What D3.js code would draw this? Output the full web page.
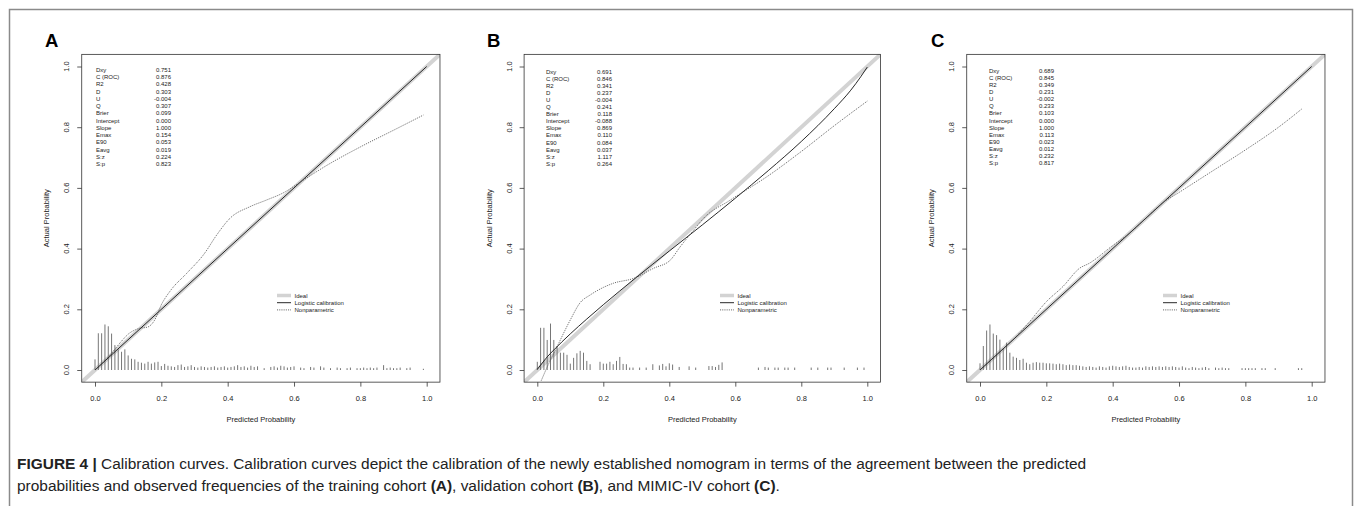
<!DOCTYPE html>
<html>
<head>
<meta charset="utf-8">
<script src="https://d3js.org/d3.v7.min.js"></script>
<style>
  body { margin: 0; background: #fff; }
  svg text { font-family: "Liberation Sans", Arial, Helvetica, sans-serif; }
</style>
</head>
<body>
<svg id="fig" width="1362" height="506"></svg>
<script>
// ---- data ----
const ticks = [0, 0.2, 0.4, 0.6, 0.8, 1.0];
const panelLetters = ["A", "B", "C"];
const statNames = ["Dxy", "C (ROC)", "R2", "D", "U", "Q", "Brier", "Intercept",
                   "Slope", "Emax", "E90", "Eavg", "S:z", "S:p"];
const statsA = ["0.751", "0.876", "0.428", "0.303", "-0.004", "0.307", "0.099", "0.000",
                "1.000", "0.154", "0.053", "0.019", "0.224", "0.823"];
const statsB = ["0.691", "0.846", "0.341", "0.237", "-0.004", "0.241", "0.118", "-0.088",
                "0.869", "0.110", "0.084", "0.037", "1.117", "0.264"];
const statsC = ["0.689", "0.845", "0.349", "0.231", "-0.002", "0.233", "0.103", "0.000",
                "1.000", "0.113", "0.023", "0.012", "0.232", "0.817"];
const legendLabels = ["Ideal", "Logistic calibration", "Nonparametric"];

// logistic calibration curves [predicted, actual]
const logisticA = [[0.0, 0.0], [1.0, 1.0]];
const logisticB = [[0.0, 0.002], [0.01, 0.016], [0.03, 0.043], [0.05, 0.066], [0.1, 0.119],
                   [0.15, 0.168], [0.2, 0.215], [0.3, 0.305], [0.4, 0.392], [0.5, 0.478],
                   [0.6, 0.566], [0.7, 0.657], [0.8, 0.753], [0.9, 0.861], [0.95, 0.922],
                   [0.98, 0.966], [1.0, 0.998]];
const logisticC = [[0.0, 0.0], [1.0, 1.0]];

// nonparametric (lowess) curves [predicted, actual]
const nonparA = [[0.0, 0.0], [0.02, 0.02], [0.05, 0.055], [0.08, 0.095], [0.1, 0.118],
                 [0.13, 0.136], [0.16, 0.142], [0.18, 0.165], [0.2, 0.215], [0.23, 0.265],
                 [0.276, 0.318], [0.33, 0.384], [0.367, 0.445], [0.407, 0.5], [0.467, 0.538],
                 [0.517, 0.56], [0.57, 0.585], [0.62, 0.62], [0.7, 0.675], [0.8, 0.735],
                 [0.9, 0.79], [0.99, 0.84]];
const nonparB = [[0.012, -0.035], [0.03, 0.01], [0.06, 0.077], [0.1, 0.165], [0.13, 0.222],
                 [0.16, 0.247], [0.2, 0.272], [0.231, 0.286], [0.292, 0.302], [0.352, 0.335],
                 [0.403, 0.362], [0.433, 0.406], [0.474, 0.461], [0.504, 0.5], [0.585, 0.56],
                 [0.7, 0.64], [0.8, 0.72], [0.9, 0.805], [1.0, 0.886]];
const nonparC = [[0.0, 0.0], [0.05, 0.05], [0.1, 0.1], [0.15, 0.16], [0.2, 0.225],
                 [0.25, 0.275], [0.3, 0.335], [0.33, 0.352], [0.4, 0.41], [0.45, 0.45],
                 [0.5, 0.5], [0.55, 0.55], [0.6, 0.585], [0.7, 0.655], [0.8, 0.725],
                 [0.9, 0.80], [0.97, 0.86]];

// spike histograms of predicted probability, one bin per 0.01 (0.00 .. 1.00)
const histA = [0.035, 0.121, 0.121, 0.150, 0.144, 0.120, 0.082, 0.068, 0.060, 0.068,
               0.048, 0.037, 0.035, 0.027, 0.024, 0.021, 0.027, 0.021, 0.025, 0.027,
               0.013, 0.020, 0.014, 0.012, 0.010, 0.016, 0.018, 0.010, 0.012, 0.016,
               0.010, 0.008, 0.012, 0.010, 0.008, 0.010, 0.012, 0.008, 0.010, 0.012,
               0.008, 0.010, 0.012, 0.016, 0.010, 0.012, 0.008, 0.014, 0.010, 0.012,
               0, 0.006, 0, 0.010, 0.012, 0.008, 0.014, 0.012, 0.008, 0.010,
               0.012, 0, 0.008, 0.006, 0, 0.010, 0.008, 0, 0.012, 0.008,
               0, 0.006, 0, 0.008, 0.006, 0, 0.006, 0.008, 0, 0.006,
               0.006, 0.008, 0.006, 0.008, 0.006, 0.008, 0, 0.016, 0.006, 0.008,
               0.006, 0.006, 0.008, 0, 0.006, 0.008, 0, 0, 0, 0.004, 0];
const histB = [0.027, 0.139, 0.139, 0.099, 0.153, 0.099, 0.079, 0.057, 0.057, 0.050,
               0.021, 0.040, 0.055, 0.063, 0.057, 0.030, 0.019, 0, 0, 0.027,
               0.021, 0.021, 0.027, 0.019, 0.030, 0.043, 0.020, 0.019, 0.008, 0.008,
               0, 0.008, 0, 0.008, 0, 0.019, 0, 0.015, 0.020, 0.012,
               0.022, 0.018, 0, 0.010, 0, 0, 0.012, 0, 0.008, 0,
               0, 0, 0.013, 0.013, 0.010, 0.017, 0.025, 0, 0, 0,
               0, 0, 0, 0, 0, 0, 0, 0.008, 0, 0.010,
               0.008, 0, 0.008, 0.008, 0, 0.008, 0.008, 0, 0.008, 0,
               0, 0, 0, 0.008, 0, 0.008, 0, 0, 0.008, 0.008,
               0, 0, 0, 0.008, 0, 0, 0, 0.008, 0, 0.008, 0];
const histC = [0.022, 0.079, 0.130, 0.150, 0.120, 0.115, 0.100, 0.070, 0.090, 0.057,
               0.044, 0.040, 0.033, 0.037, 0.024, 0.019, 0.024, 0.026, 0.024, 0.024,
               0.022, 0.022, 0.021, 0.019, 0.021, 0.019, 0.016, 0.018, 0.016, 0.016,
               0.014, 0.012, 0.010, 0.012, 0.010, 0.008, 0.012, 0.010, 0.008, 0.012,
               0.014, 0.012, 0.010, 0.012, 0.014, 0.010, 0.008, 0.008, 0.010, 0.008,
               0.012, 0.010, 0.012, 0.010, 0.012, 0.010, 0.012, 0.010, 0.012, 0.010,
               0.008, 0.012, 0.008, 0.006, 0.010, 0.008, 0.006, 0.008, 0.010, 0.006,
               0, 0.008, 0.006, 0.008, 0.006, 0.006, 0, 0, 0, 0.006,
               0.006, 0.006, 0.006, 0.006, 0, 0.006, 0.006, 0, 0, 0.006,
               0, 0, 0, 0, 0, 0, 0.006, 0.006, 0, 0, 0];

const caption1 = [["FIGURE 4 | ", true],
  ["Calibration curves. Calibration curves depict the calibration of the newly established nomogram in terms of the agreement between the predicted", false]];
const caption2 = [["probabilities and observed frequencies of the training cohort ", false], ["(A)", true],
  [", validation cohort ", false], ["(B)", true], [", and MIMIC-IV cohort ", false], ["(C)", true], [".", false]];

// ---- layout ----
const panels = [
  {letter: panelLetters[0], stats: statsA, logistic: logisticA, nonpar: nonparA, hist: histA,
   x0: 95, x1: 426.7, lx: 45, sx: 96, vx: 171, sy: 72, sdy: 7.23, legx: 277},
  {letter: panelLetters[1], stats: statsB, logistic: logisticB, nonpar: nonparB, hist: histB,
   x0: 537.3, x1: 867.3, lx: 487, sx: 546, vx: 612, sy: 74, sdy: 7.05, legx: 720},
  {letter: panelLetters[2], stats: statsC, logistic: logisticC, nonpar: nonparC, hist: histC,
   x0: 980, x1: 1311.7, lx: 931, sx: 989, vx: 1054, sy: 73, sdy: 7.08, legx: 1163}
];
const yPix0 = 370, yPix1 = 66.5;
const fmt = d3.format(".1f");

const svg = d3.select("#fig");

// outer frame (open at the bottom)
svg.append("path")
  .attr("d", "M9.5,506 V9.5 H1352.5 V506")
  .attr("fill", "none").attr("stroke", "#8a8a8a").attr("stroke-width", 1.5);

panels.forEach((p, pi) => {
  const x = d3.scaleLinear().domain([0, 1]).range([p.x0, p.x1]);
  const y = d3.scaleLinear().domain([0, 1]).range([yPix0, yPix1]);
  const dom = [-0.04, 1.04];
  const g = svg.append("g");

  const left = x(dom[0]), right = x(dom[1]), top = y(dom[1]), bottom = y(dom[0]);

  g.append("clipPath").attr("id", "clip" + pi)
    .append("rect").attr("x", left).attr("y", top)
    .attr("width", right - left).attr("height", bottom - top);
  const plot = g.append("g").attr("clip-path", `url(#clip${pi})`);

  // ideal line
  plot.append("line")
    .attr("x1", x(dom[0])).attr("y1", y(dom[0]))
    .attr("x2", x(dom[1])).attr("y2", y(dom[1]))
    .attr("stroke", "#d3d3d3").attr("stroke-width", 4);

  // spike histogram
  plot.selectAll("line.spike")
    .data(p.hist.map((h, i) => [i / 100, h]).filter(d => d[1] > 0))
    .join("line").attr("class", "spike")
    .attr("x1", d => x(d[0])).attr("x2", d => x(d[0]))
    .attr("y1", y(0)).attr("y2", d => y(d[1]))
    .attr("stroke", "#666").attr("stroke-width", 0.9);

  const smooth = d3.line().x(d => x(d[0])).y(d => y(d[1])).curve(d3.curveMonotoneX);

  plot.append("path").datum(p.logistic)
    .attr("d", smooth).attr("fill", "none")
    .attr("stroke", "#111").attr("stroke-width", 0.9);

  plot.append("path").datum(p.nonpar)
    .attr("d", smooth).attr("fill", "none")
    .attr("stroke", "#444").attr("stroke-width", 0.8)
    .attr("stroke-dasharray", "1.1,1.1");

  // box
  g.append("rect")
    .attr("x", left).attr("y", top)
    .attr("width", right - left).attr("height", bottom - top)
    .attr("fill", "none").attr("stroke", "#333").attr("stroke-width", 0.8);

  // x axis
  const xa = g.append("g").attr("transform", `translate(0,${bottom})`)
    .call(d3.axisBottom(x).tickValues(ticks).tickSize(4.5).tickPadding(9).tickFormat(fmt));
  xa.select(".domain").remove();
  xa.selectAll("line").attr("stroke", "#333").attr("stroke-width", 0.8);
  xa.selectAll("text").attr("font-size", 7.5).attr("fill", "#222")
    .attr("font-family", "Liberation Sans, Arial, sans-serif");

  // y axis
  const ya = g.append("g").attr("transform", `translate(${left},0)`)
    .call(d3.axisLeft(y).tickValues(ticks).tickSize(4.5).tickFormat(""));
  ya.select(".domain").remove();
  ya.selectAll("line").attr("stroke", "#333").attr("stroke-width", 0.8);
  g.selectAll("text.ylab").data(ticks).join("text").attr("class", "ylab")
    .attr("transform", d => `translate(${left - 12.3},${y(d)}) rotate(-90)`)
    .attr("text-anchor", "middle").attr("font-size", 7.5).attr("fill", "#222")
    .text(fmt);

  // axis titles
  g.append("text")
    .attr("x", x(0.5)).attr("y", bottom + 39.5)
    .attr("text-anchor", "middle").attr("font-size", 7.5).attr("fill", "#222")
    .text("Predicted Probability");
  g.append("text")
    .attr("transform", `translate(${left - 32.3},${y(0.5)}) rotate(-90)`)
    .attr("text-anchor", "middle").attr("font-size", 7.5).attr("fill", "#222")
    .text("Actual Probability");

  // panel letter
  g.append("text").attr("x", p.lx).attr("y", 47)
    .attr("font-size", 18.5).attr("font-weight", "bold").attr("fill", "#000")
    .text(p.letter);

  // statistics block
  g.selectAll("text.sname").data(statNames).join("text").attr("class", "sname")
    .attr("x", p.sx).attr("y", (d, i) => p.sy + i * p.sdy)
    .attr("font-size", 6).attr("fill", "#222").text(d => d);
  g.selectAll("text.sval").data(p.stats).join("text").attr("class", "sval")
    .attr("x", p.vx).attr("y", (d, i) => p.sy + i * p.sdy)
    .attr("text-anchor", "end")
    .attr("font-size", 6).attr("fill", "#222").text(d => d);

  // legend
  const legY = [295.5, 302.7, 309.9];
  const leg = g.selectAll("g.leg").data(legendLabels).join("g").attr("class", "leg")
    .attr("transform", (d, i) => `translate(${p.legx},${legY[i]})`);
  leg.append("line").attr("x1", 0).attr("x2", 14).attr("y1", 0).attr("y2", 0)
    .attr("stroke", (d, i) => ["#d3d3d3", "#111", "#444"][i])
    .attr("stroke-width", (d, i) => [3.5, 0.9, 0.8][i])
    .attr("stroke-dasharray", (d, i) => i === 2 ? "1.1,1.1" : null);
  leg.append("text").attr("x", 17.5).attr("y", 2.1)
    .attr("font-size", 6).attr("fill", "#222").text(d => d);
});

// caption
function captionLine(parts, yPos) {
  const t = svg.append("text").attr("x", 17).attr("y", yPos)
    .attr("font-size", 15).attr("fill", "#222");
  t.selectAll("tspan").data(parts).join("tspan")
    .attr("font-weight", d => d[1] ? "bold" : null)
    .text(d => d[0]);
  return t;
}
const c1 = captionLine(caption1, 468.5);
const c2 = captionLine(caption2, 490.5);
// fit the first caption line to its width in the figure
const w1 = c1.node().getComputedTextLength();
const fs = 15 * 1070 / w1;
c1.attr("font-size", fs);
c2.attr("font-size", fs);
</script>
</body>
</html>
